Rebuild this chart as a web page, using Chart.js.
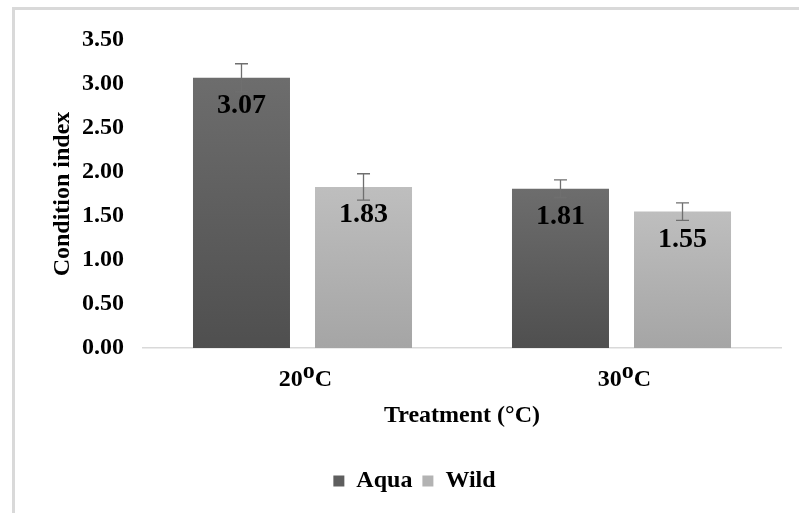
<!DOCTYPE html>
<html>
<head>
<meta charset="utf-8">
<script src="https://cdn.jsdelivr.net/npm/chart.js@4"></script>
<style>
html,body{margin:0;padding:0;background:#fff;}
#wrap{width:799px;height:513px;position:relative;}
</style>
</head>
<body>
<div id="wrap"><canvas id="c" width="799" height="513"></canvas></div>
<script>
// Category labels: temperature, with the "o" drawn raised (superscript) like the original
const categoryNumbers = ["20", "30"];
const categories = ["20oC", "30oC"];
const aquaValues = [3.07, 1.81];
const wildValues = [1.83, 1.55];
const aquaErrors = [0.16, 0.10];
const wildErrors = [0.15, 0.10];
const yTicks = [0, 0.5, 1.0, 1.5, 2.0, 2.5, 3.0, 3.5];

const SERIF = "'Liberation Serif', 'Times New Roman', serif";

function barGradient(top, bottom) {
  return function(ctx) {
    const chart = ctx.chart;
    const ca = chart.chartArea;
    if (!ca || ctx.type !== 'data') return top;
    const y = chart.scales.y;
    const y0 = y.getPixelForValue(ctx.raw);
    const y1 = y.getPixelForValue(0);
    const g = chart.ctx.createLinearGradient(0, y0, 0, y1);
    g.addColorStop(0, top);
    g.addColorStop(1, bottom);
    return g;
  };
}

const framePlugin = {
  id: 'frame',
  beforeDraw(chart) {
    const c = chart.ctx;
    c.save();
    c.strokeStyle = '#d9d9d9';
    c.lineWidth = 3;
    c.beginPath();
    c.moveTo(13.5, 513);
    c.lineTo(13.5, 8.5);
    c.lineTo(799, 8.5);
    c.stroke();
    c.restore();
  },
  afterLayout(chart) {
    if (chart.legend) { chart.legend.left += 24; chart.legend.right += 24; }
  }
};

const xLabelPlugin = {
  id: 'xlabels',
  afterDraw(chart) {
    const c = chart.ctx;
    const xs = chart.scales.x;
    const yc = chart.chartArea.bottom + 38; // baseline
    c.save();
    c.fillStyle = '#000';
    c.textBaseline = 'alphabetic';
    c.textAlign = 'left';
    const big = 'bold 24px ' + SERIF;
    categoryNumbers.forEach((num, i) => {
      const x = xs.getPixelForTick(i);
      c.font = big;
      const w1 = c.measureText(num).width;
      const w2 = c.measureText('o').width;
      const w3 = c.measureText('C').width;
      const total = w1 + w2 + w3;
      let sx = x - total / 2 + 3;
      c.fillText(num, sx, yc);
      c.fillText('o', sx + w1, yc - 8);
      c.fillText('C', sx + w1 + w2, yc);
    });
    c.restore();
  }
};

const errPlugin = {
  id: 'errbars',
  afterDatasetsDraw(chart) {
    const c = chart.ctx;
    const ys = chart.scales.y;
    const errs = [aquaErrors, wildErrors];
    c.save();
    chart.data.datasets.forEach((ds, di) => {
      const meta = chart.getDatasetMeta(di);
      meta.data.forEach((bar, i) => {
        const v = ds.data[i];
        const e = errs[di][i];
        const x = bar.x;
        const yt = ys.getPixelForValue(v + e);
        const yb = ys.getPixelForValue(v - e);
        c.strokeStyle = '#6f6f6f';
        c.lineWidth = 1.3;
        c.beginPath();
        c.moveTo(x, yt); c.lineTo(x, yb);
        c.moveTo(x - 6.5, yt); c.lineTo(x + 6.5, yt);
        c.moveTo(x - 6.5, yb); c.lineTo(x + 6.5, yb);
        c.stroke();
      });
    });
    chart.data.datasets.forEach((ds, di) => {
      const meta = chart.getDatasetMeta(di);
      meta.data.forEach((bar, i) => {
        c.fillStyle = '#000';
        c.font = 'bold 28px ' + SERIF;
        c.textAlign = 'center';
        c.textBaseline = 'middle';
        c.fillText(ds.data[i].toFixed(2), bar.x, bar.y + 28);
      });
    });
    c.restore();
  }
};

new Chart(document.getElementById('c'), {
  type: 'bar',
  data: {
    labels: categories,
    datasets: [
      { label: 'Aqua', data: aquaValues, backgroundColor: barGradient('#6d6d6d', '#4f4f4f'),
        barPercentage: 0.795, categoryPercentage: 0.765 },
      { label: 'Wild', data: wildValues, backgroundColor: barGradient('#bebebe', '#a5a5a5'),
        barPercentage: 0.795, categoryPercentage: 0.765 }
    ]
  },
  options: {
    responsive: false,
    animation: false,
    layout: { padding: { top: 40, left: 0, right: 18, bottom: 10 } },
    plugins: {
      tooltip: { enabled: false },
      legend: {
        position: 'bottom',
        labels: {
          boxWidth: 11, boxHeight: 11, padding: 10,
          color: '#000',
          font: { family: SERIF, size: 24, weight: 'bold' },
          generateLabels(chart) {
            const cols = ['#5e5e5e', '#b3b3b3'];
            return chart.data.datasets.map((d, i) => ({
              text: d.label, fillStyle: cols[i], strokeStyle: cols[i], lineWidth: 0, datasetIndex: i, fontColor: '#000'
            }));
          }
        }
      }
    },
    scales: {
      x: {
        grid: { display: false, drawTicks: false },
        border: { display: true, color: '#d9d9d9', width: 1.5 },
        ticks: { color: 'rgba(0,0,0,0)', padding: 17, font: { family: SERIF, size: 24, weight: 'bold' } },
        title: { display: true, text: 'Treatment (°C)', color: '#000',
          font: { family: SERIF, size: 24, weight: 'bold' }, padding: { top: 0, bottom: 29 } },
        afterFit(s) { s.height = 111; }
      },
      y: {
        min: 0, max: 3.5,
        grid: { display: false, drawTicks: false },
        border: { display: false },
        afterBuildTicks(s) { s.ticks = yTicks.map(v => ({ value: v })); },
        ticks: { color: '#000', padding: 19, font: { family: SERIF, size: 24, weight: 'bold' },
          callback: v => Number(v).toFixed(2) },
        title: { display: true, text: 'Condition index', color: '#000',
          font: { family: SERIF, size: 24, weight: 'bold' }, padding: { top: 48, bottom: 0 } },
        afterFit(s) { s.width = 143; }
      }
    }
  },
  plugins: [framePlugin, errPlugin, xLabelPlugin]
});
</script>
</body>
</html>
